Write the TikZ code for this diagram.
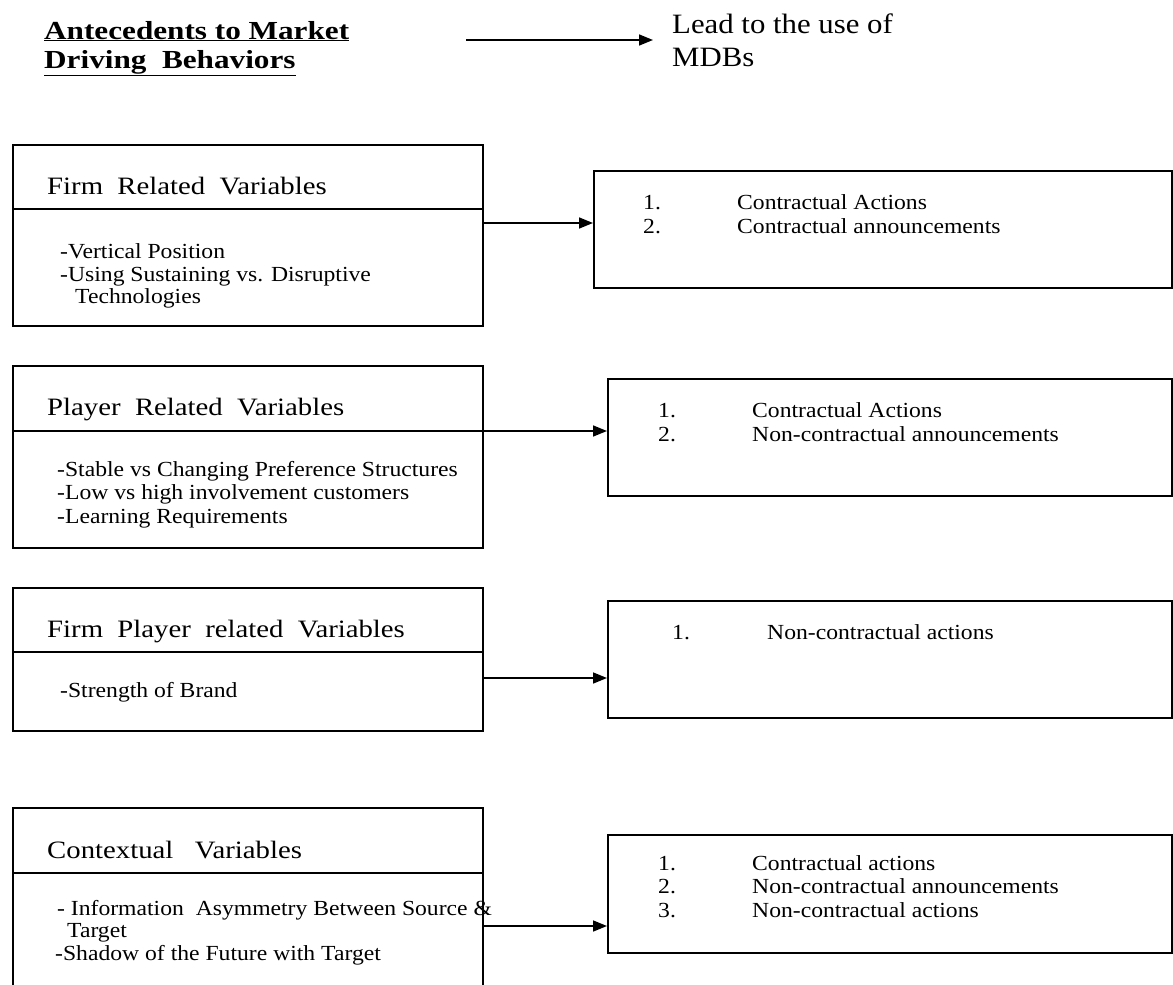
\documentclass[tikz,border=0pt]{standalone}
\usepackage{fontspec}
\setmainfont{Liberation Serif}[FakeStretch=1.1]
\newfontfamily\headfont{Liberation Serif}[FakeStretch=1.15]
\newfontfamily\titlefont{Liberation Serif}[FakeStretch=1.2]
\newfontfamily\leadfont{Liberation Serif}[FakeStretch=1.1]
\usetikzlibrary{arrows.meta}

\begin{document}
\begin{tikzpicture}[x=1pt, y=-1pt,
  box/.style={draw, line width=1.6pt, inner sep=0pt, anchor=north west},
  head/.style={anchor=base west, inner sep=0pt, font=\headfont\fontsize{25}{25}\selectfont},
  item/.style={anchor=base west, inner sep=0pt, align=left, font=\fontsize{21.5}{23.3}\selectfont},
  conn/.style={line width=1.6pt, -{Triangle[length=14pt, width=11pt]}}]
\useasboundingbox (0,0) rectangle (1173,985);

% title line (base = last line)
\node[anchor=base west, inner sep=0pt, align=left, font=\titlefont\fontsize{26}{29}\selectfont\bfseries] (ante) at (44,68)
  {\underline{Antecedents to Market}\\ \underline{Driving\ \ Behaviors}};
\node[anchor=base west, inner sep=0pt, align=left, font=\leadfont\fontsize{28}{33}\selectfont] (lead) at (672,66)
  {Lead to the use of\\ MDBs};
\coordinate (t0) at (466,40);
\coordinate (t1) at (653,40);
\draw[conn] (t0) -- (t1);

% firm related
\node[box, minimum width=470pt, minimum height=181pt] (firm) at (12,144) {};
\draw[line width=1.6pt] (firm.west |- 0,209) -- (firm.east |- 0,209);
\node[head] (firmhead) at (47,194) {Firm\ \ Related\ \ Variables};
\node[item] (firm1) at (60,258) {-Vertical Position};
\node[item] (firm2) at (60,281) {-Using Sustaining vs. Disruptive};
\node[item] (firm3) at (75,303) {Technologies};
\node[box, minimum width=578pt, minimum height=117pt] (firmout) at (593,170) {};
\node[item] (fo1) at (643,233) {1.\\2.};
\node[item] (fo2) at (737,233) {Contractual Actions\\Contractual announcements};
\coordinate (f1) at (482,223);
\draw[conn] (f1) -- (f1 -| firmout.west);

% player related
\node[box, minimum width=470pt, minimum height=182pt] (player) at (12,365) {};
\draw[line width=1.6pt] (player.west |- 0,431) -- (player.east |- 0,431);
\node[head] (playerhead) at (47,415) {Player\ \ Related\ \ Variables};
\node[item] (player1) at (57,523) {-Stable vs Changing Preference Structures\\-Low vs high involvement customers\\-Learning Requirements};
\node[box, minimum width=564pt, minimum height=117pt] (playerout) at (607,378) {};
\node[item] (po1) at (658,441) {1.\\2.};
\node[item] (po2) at (752,441) {Contractual Actions\\Non-contractual announcements};
\coordinate (p1) at (482,431);
\draw[conn] (p1) -- (p1 -| playerout.west);

% firm player related
\node[box, minimum width=470pt, minimum height=143pt] (fp) at (12,587) {};
\draw[line width=1.6pt] (fp.west |- 0,652) -- (fp.east |- 0,652);
\node[head] (fphead) at (47,637) {Firm\ \ Player\ \ related\ \ Variables};
\node[item] (fp1) at (60,697) {-Strength of Brand};
\node[box, minimum width=564pt, minimum height=117pt] (fpout) at (607,600) {};
\node[item] (fpo1) at (672,639) {1.};
\node[item] (fpo2) at (767,639) {Non-contractual actions};
\coordinate (q1) at (482,678);
\draw[conn] (q1) -- (q1 -| fpout.west);

% contextual
\node[box, minimum width=470pt, minimum height=190pt] (ctx) at (12,807) {};
\draw[line width=1.6pt] (ctx.west |- 0,873) -- (ctx.east |- 0,873);
\node[head] (ctxhead) at (47,858) {Contextual\ \ \ Variables};
\node[item] (ctx1) at (57,915) {- Information\ \ Asymmetry Between Source \&};
\node[item] (ctx2) at (67,937) {Target};
\node[item] (ctx3) at (55,960) {-Shadow\ of the Future with Target};
\node[box, minimum width=564pt, minimum height=118pt] (ctxout) at (607,834) {};
\node[item] (co1) at (658,917) {1.\\2.\\3.};
\node[item] (co2) at (752,917) {Contractual actions\\Non-contractual announcements\\Non-contractual actions};
\coordinate (c1) at (482,926);
\draw[conn] (c1) -- (c1 -| ctxout.west);
\end{tikzpicture}
\end{document}
